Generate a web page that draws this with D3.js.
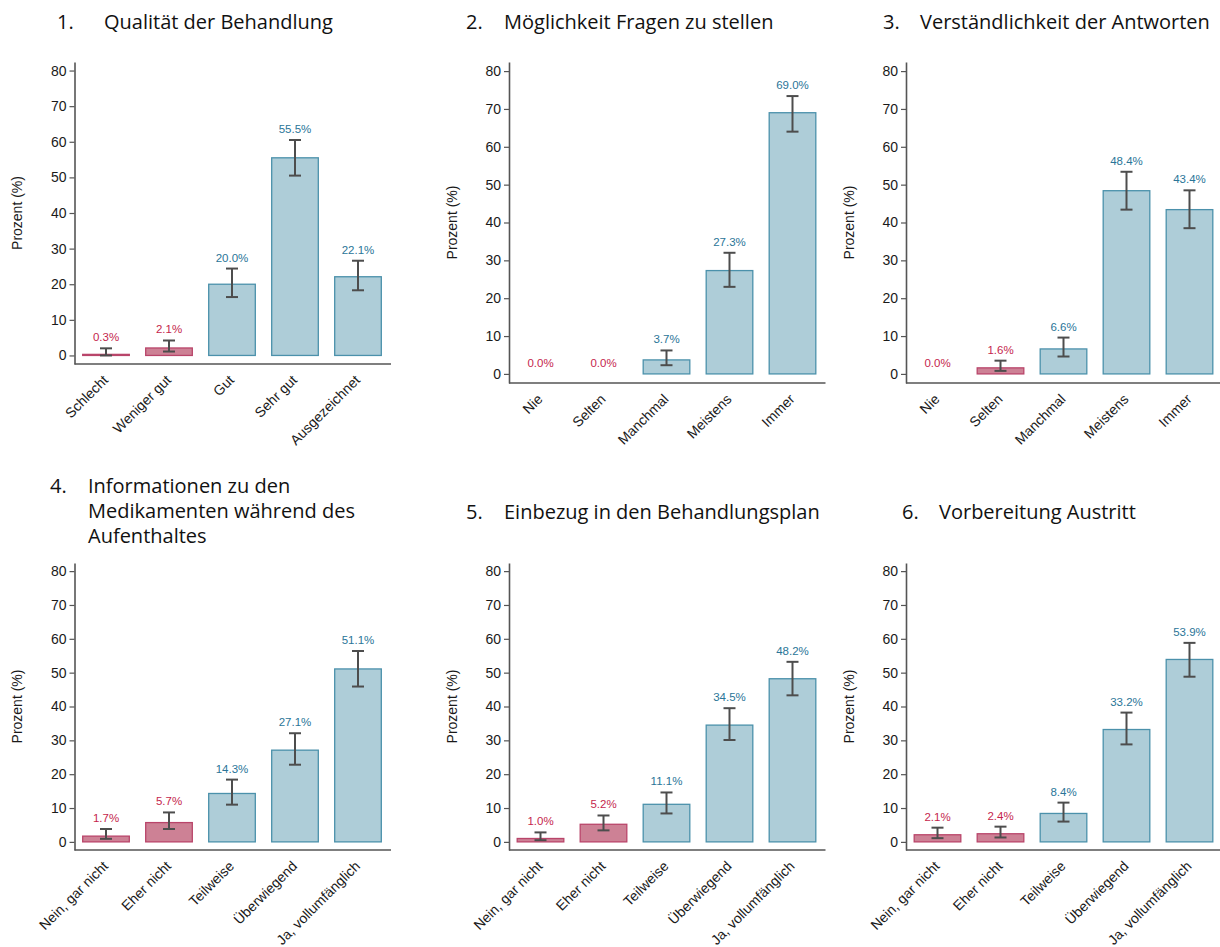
<!DOCTYPE html>
<html>
<head>
<meta charset="utf-8">
<script src="https://cdn.jsdelivr.net/npm/d3@7"></script>
<style>
  html, body { margin: 0; padding: 0; background: #fff; }
  svg { display: block; }
  .sans { font-family: "Liberation Sans", Arial, Helvetica, sans-serif; }
  .title { font-family: "Open Sans", "Noto Sans", sans-serif; }
</style>
</head>
<body>
<svg id="chart" width="1220" height="947"></svg>
<script>
// ---------------- data ----------------
const titles = [
  ["Qualität der Behandlung"],
  ["Möglichkeit Fragen zu stellen"],
  ["Verständlichkeit der Antworten"],
  ["Informationen zu den", "Medikamenten während des", "Aufenthaltes"],
  ["Einbezug in den Behandlungsplan"],
  ["Vorbereitung Austritt"]
];
const catsQuality = ["Schlecht", "Weniger gut", "Gut", "Sehr gut", "Ausgezeichnet"];
const catsFrequency = ["Nie", "Selten", "Manchmal", "Meistens", "Immer"];
const catsAgreement = ["Nein, gar nicht", "Eher nicht", "Teilweise", "Überwiegend", "Ja, vollumfänglich"];
const negativeCategory = [true, true, false, false, false];

const values1 = [0.3, 2.1, 20.0, 55.5, 22.1];
const lower1  = [0.0, 1.1, 16.4, 50.5, 18.3];
const upper1  = [2.0, 4.2, 24.4, 60.5, 26.6];

const values2 = [0.0, 0.0, 3.7, 27.3, 69.0];
const lower2  = [0.0, 0.0, 2.3, 23.0, 64.0];
const upper2  = [0.0, 0.0, 6.2, 32.0, 73.4];

const values3 = [0.0, 1.6, 6.6, 48.4, 43.4];
const lower3  = [0.0, 0.8, 4.6, 43.4, 38.5];
const upper3  = [0.0, 3.5, 9.6, 53.4, 48.5];

const values4 = [1.7, 5.7, 14.3, 27.1, 51.1];
const lower4  = [0.9, 3.8, 11.0, 22.8, 45.9];
const upper4  = [3.8, 8.7, 18.4, 32.1, 56.4];

const values5 = [1.0, 5.2, 11.1, 34.5, 48.2];
const lower5  = [0.5, 3.4, 8.4, 30.1, 43.3];
const upper5  = [2.8, 7.8, 14.6, 39.5, 53.2];

const values6 = [2.1, 2.4, 8.4, 33.2, 53.9];
const lower6  = [1.1, 1.3, 6.0, 28.8, 48.8];
const upper6  = [4.2, 4.5, 11.6, 38.2, 58.8];

const yTicks = [0, 10, 20, 30, 40, 50, 60, 70, 80];
const yLabel = "Prozent (%)";

// ---------------- layout ----------------
const panels = [
  { cats: catsQuality,   v: values1, lo: lower1, hi: upper1, left: 74.5,  top: 62,  bottom: 364, numX: 57,  textX: 104, titleY: 29 },
  { cats: catsFrequency, v: values2, lo: lower2, hi: upper2, left: 509,   top: 62,  bottom: 383, numX: 466, textX: 504, titleY: 29 },
  { cats: catsFrequency, v: values3, lo: lower3, hi: upper3, left: 906,   top: 62,  bottom: 383, numX: 883, textX: 920, titleY: 29 },
  { cats: catsAgreement, v: values4, lo: lower4, hi: upper4, left: 74.5,  top: 563, bottom: 850, numX: 50,  textX: 88,  titleY: 493 },
  { cats: catsAgreement, v: values5, lo: lower5, hi: upper5, left: 509,   top: 563, bottom: 850, numX: 466, textX: 504, titleY: 519 },
  { cats: catsAgreement, v: values6, lo: lower6, hi: upper6, left: 906,   top: 563, bottom: 850, numX: 902, textX: 939, titleY: 519 }
];
const plotWidth = 315;

const colors = {
  posFill: "#aecdd8", posStroke: "#4b91ab", posText: "#2a7598",
  negFill: "#cd8195", negStroke: "#b9456a", negText: "#c51f4d",
  err: "#4d4d4d", axis: "#555555", text: "#1a1a1a"
};

const svg = d3.select("#chart");

panels.forEach((p, i) => {
  const g = svg.append("g");
  const x = d3.scaleBand().domain(p.cats).range([p.left, p.left + plotWidth])
    .paddingInner(0.26).paddingOuter(0.13);
  const y = d3.scaleLinear().domain([-2.4, 82.4]).range([p.bottom, p.top]);

  // title
  const t = g.append("g").attr("class", "title").attr("font-size", 20).attr("fill", "#111");
  t.append("text").attr("x", p.numX).attr("y", p.titleY).text((i + 1) + ".");
  titles[i].forEach((line, k) => {
    t.append("text").attr("x", p.textX).attr("y", p.titleY + k * 25).text(line);
  });

  // y axis
  const ya = g.append("g").attr("transform", `translate(${p.left},0)`)
    .call(d3.axisLeft(y).tickValues(yTicks).tickSize(5).tickSizeOuter(0).tickPadding(3));
  ya.attr("font-family", null).attr("font-size", null).attr("class", "sans");
  ya.select(".domain").attr("stroke", colors.axis).attr("stroke-width", 1.6);
  ya.selectAll(".tick line").attr("stroke", colors.axis).attr("stroke-width", 1.2);
  ya.selectAll(".tick text").attr("font-size", 14).attr("fill", colors.text);

  // y label
  g.append("text").attr("class", "sans")
    .attr("transform", `translate(${p.left - 57},${(p.top + p.bottom) / 2}) rotate(-90)`)
    .attr("text-anchor", "middle").attr("dy", "0.35em")
    .attr("font-size", 14).attr("fill", colors.text).text(yLabel);

  // x axis
  const xa = g.append("g").attr("transform", `translate(0,${p.bottom})`)
    .call(d3.axisBottom(x).tickSize(0).tickSizeOuter(0).tickPadding(0));
  xa.attr("font-family", null).attr("font-size", null).attr("class", "sans");
  xa.select(".domain").attr("stroke", colors.axis).attr("stroke-width", 1.6)
    .attr("d", `M${p.left},0H${p.left + plotWidth + 1.5}`);
  xa.selectAll(".tick text")
    .attr("font-size", 14).attr("fill", colors.text)
    .attr("text-anchor", "end")
    .attr("transform", "translate(-3,11) rotate(-45)")
    .attr("dy", "0.6em").attr("y", 0);

  const data = p.cats.map((c, j) => ({ c, v: p.v[j], lo: p.lo[j], hi: p.hi[j], neg: negativeCategory[j] }));

  // bars
  g.selectAll("rect.bar").data(data.filter(d => d.v > 0)).join("rect")
    .attr("class", "bar")
    .attr("x", d => x(d.c)).attr("width", x.bandwidth())
    .attr("y", d => y(d.v)).attr("height", d => y(0) - y(d.v))
    .attr("fill", d => d.neg ? colors.negFill : colors.posFill)
    .attr("stroke", d => d.neg ? colors.negStroke : colors.posStroke)
    .attr("stroke-width", 1.3);

  // error bars
  const eb = g.selectAll("g.err").data(data.filter(d => d.v > 0)).join("g").attr("class", "err")
    .attr("stroke", colors.err).attr("stroke-width", 2).attr("fill", "none");
  const cap = 6;
  const cx = d => x(d.c) + x.bandwidth() / 2;
  eb.append("line").attr("x1", cx).attr("x2", cx)
    .attr("y1", d => y(d.lo)).attr("y2", d => y(d.hi));
  eb.append("line").attr("x1", d => cx(d) - cap).attr("x2", d => cx(d) + cap)
    .attr("y1", d => y(d.lo)).attr("y2", d => y(d.lo));
  eb.append("line").attr("x1", d => cx(d) - cap).attr("x2", d => cx(d) + cap)
    .attr("y1", d => y(d.hi)).attr("y2", d => y(d.hi));

  // value labels
  g.selectAll("text.val").data(data).join("text").attr("class", "val sans")
    .attr("x", cx)
    .attr("y", d => y(Math.max(d.hi, d.v)) - 7)
    .attr("text-anchor", "middle")
    .attr("font-size", 11.5)
    .attr("fill", d => d.neg ? colors.negText : colors.posText)
    .text(d => d.v.toFixed(1) + "%");
});
</script>
</body>
</html>
